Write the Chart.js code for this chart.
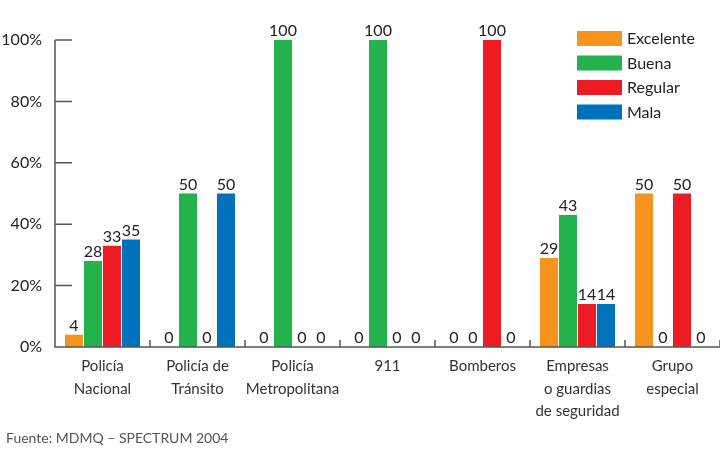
<!DOCTYPE html>
<html>
<head>
<meta charset="utf-8">
<script src="https://cdn.jsdelivr.net/npm/chart.js@4/dist/chart.umd.min.js"></script>
<style>
  html, body { margin: 0; padding: 0; background: #fff; }
  #wrap { width: 720px; height: 450px; position: relative; }
  #fuente { position: absolute; left: 6px; top: 429px; font: 14px Lato, "Open Sans", sans-serif; color: #555; }
</style>
</head>
<body>
<div id="wrap">
  <canvas id="c" width="720" height="450"></canvas>
  <div id="fuente">Fuente: MDMQ – SPECTRUM 2004</div>
</div>
<script>
// categories and series (percent)
const categories = [
  ['Policía', 'Nacional'],
  ['Policía de', 'Tránsito'],
  ['Policía', 'Metropolitana'],
  ['911'],
  ['Bomberos'],
  ['Empresas', 'o guardias', 'de seguridad'],
  ['Grupo', 'especial']
];
const excelente = [4, 0, 0, 0, 0, 29, 50];
const buena     = [28, 50, 100, 100, 0, 43, 0];
const regular   = [33, 0, 0, 0, 100, 14, 50];
const mala      = [35, 50, 0, 0, 0, 14, 0];
const yTicks = [0, 20, 40, 60, 80, 100];

const FONT = 'Lato, "Open Sans", sans-serif';
const AXIS = '#555';

// value labels on top of every bar (zeros too)
const valueLabels = {
  id: 'valueLabels',
  afterDatasetsDraw(chart) {
    const ctx = chart.ctx;
    ctx.save();
    ctx.font = '16px ' + FONT;
    ctx.fillStyle = '#222';
    ctx.textAlign = 'center';
    ctx.textBaseline = 'bottom';
    chart.data.datasets.forEach((ds, i) => {
      chart.getDatasetMeta(i).data.forEach((bar, j) => {
        ctx.fillText(String(ds.data[j]), bar.x, bar.y - 1);
      });
    });
    ctx.restore();
  }
};

// axis lines with inward tick marks
const axisMarks = {
  id: 'axisMarks',
  afterDraw(chart) {
    const ctx = chart.ctx, x = chart.scales.x, y = chart.scales.y;
    const a = chart.chartArea;
    ctx.save();
    ctx.strokeStyle = AXIS;
    ctx.lineWidth = 1.5;
    ctx.beginPath();
    ctx.moveTo(a.left, y.getPixelForValue(100));
    ctx.lineTo(a.left, a.bottom);
    ctx.lineTo(a.right, a.bottom);
    yTicks.forEach(v => {
      if (v === 0) return;
      const py = y.getPixelForValue(v);
      ctx.moveTo(a.left, py);
      ctx.lineTo(a.left + 17, py);
    });
    const half = (x.getPixelForValue(1) - x.getPixelForValue(0)) / 2;
    categories.forEach((c, i) => {
      const px = x.getPixelForValue(i) + half;
      ctx.moveTo(px, a.bottom);
      ctx.lineTo(px, a.bottom - 7);
    });
    ctx.stroke();
    ctx.restore();
  }
};

// legend block at top right
const boxLegend = {
  id: 'boxLegend',
  afterDraw(chart) {
    const ctx = chart.ctx;
    ctx.save();
    ctx.font = '16px ' + FONT;
    ctx.textBaseline = 'middle';
    chart.data.datasets.forEach((ds, i) => {
      const top = 31 + i * 24.5;
      ctx.fillStyle = ds.backgroundColor;
      ctx.fillRect(577, top, 45, 15);
      ctx.fillStyle = '#222';
      ctx.fillText(ds.label, 627, top + 8);
    });
    ctx.restore();
  }
};

new Chart(document.getElementById('c'), {
  type: 'bar',
  data: {
    labels: categories,
    datasets: [
      { label: 'Excelente', data: excelente, backgroundColor: '#F7941D' },
      { label: 'Buena', data: buena, backgroundColor: '#23B24B' },
      { label: 'Regular', data: regular, backgroundColor: '#ED1C24' },
      { label: 'Mala', data: mala, backgroundColor: '#0072BC' }
    ]
  },
  options: {
    responsive: false,
    animation: false,
    layout: { padding: { top: 40, right: 0, left: 0, bottom: 0 } },
    datasets: { bar: { categoryPercentage: 0.8, barPercentage: 0.95 } },
    plugins: { legend: { display: false }, tooltip: { enabled: false } },
    scales: {
      x: {
        grid: { display: false },
        border: { display: false },
        ticks: { color: '#333', font: { family: FONT, size: 15, lineHeight: 1.5 }, padding: 0, maxRotation: 0, autoSkip: false },
        afterFit(s) { s.height = 103; }
      },
      y: {
        min: 0, max: 100,
        afterBuildTicks(s) { s.ticks = yTicks.map(v => ({ value: v })); },
        grid: { display: false },
        border: { display: false },
        ticks: { color: '#222', font: { family: FONT, size: 16 }, padding: 5, callback: v => v + '%' },
        afterFit(s) { s.width = 55; }
      }
    }
  },
  plugins: [valueLabels, axisMarks, boxLegend]
});
</script>
</body>
</html>
